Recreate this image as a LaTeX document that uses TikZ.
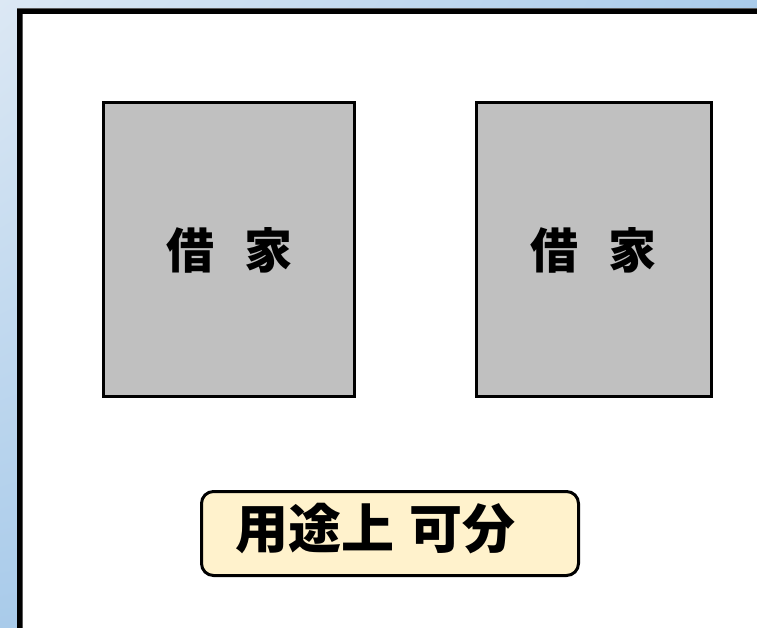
\documentclass[tikz,border=0pt]{standalone}
\usepackage{fontspec}
\usetikzlibrary{shadings}
\newfontfamily\cjk{Noto Sans CJK JP}
\definecolor{bgA}{HTML}{DCE8F4}
\definecolor{bgB}{HTML}{A9CBEA}
\definecolor{bgC}{HTML}{A2C5E8}
\definecolor{housegray}{HTML}{C0C0C0}
\definecolor{labelfill}{HTML}{FFF2CC}
\tikzset{
  house/.style={draw=black, line width=3pt, fill=housegray},
  housetext/.style={font=\cjk\bfseries\fontsize{48}{50}\selectfont, inner sep=0pt},
  labelbox/.style={draw=black, line width=3pt, fill=labelfill, rounded corners=12pt},
  labeltext/.style={font=\cjk\bfseries\fontsize{53}{55}\selectfont, inner sep=0pt},
}
\begin{document}
\begin{tikzpicture}[x=1pt,y=1pt]
\useasboundingbox (0,0) rectangle (757,627);
\clip (0,0) rectangle (757,627);
\shade[upper left=bgA, upper right=bgB, lower left=bgB, lower right=bgC] (0,0) rectangle (757,627);
% frame
\draw[draw=gray!70!black, line width=6pt, fill=white] (19.5,615.5) rectangle (800,-50);
\draw[draw=black, line width=5pt] (19.5,615.5) rectangle (800,-50);
% houses
\node[house, minimum width=251pt, minimum height=294pt, inner sep=0pt] (h1) at (229,377.5) {};
\node[house, minimum width=235pt, minimum height=294pt, inner sep=0pt] (h2) at (594,377.5) {};
\node[housetext] (t1) at (229,376.5) {借\hspace{30pt}家};
\node[housetext] (t2) at (593,376.5) {借\hspace{30pt}家};
% label
\node[labelbox, minimum width=377pt, minimum height=84pt, inner sep=0pt] (lb) at (390,93.5) {};
\node[labeltext] (lt) at (375.5,98) {用途上\hspace{16pt}可分};
\end{tikzpicture}
\end{document}
